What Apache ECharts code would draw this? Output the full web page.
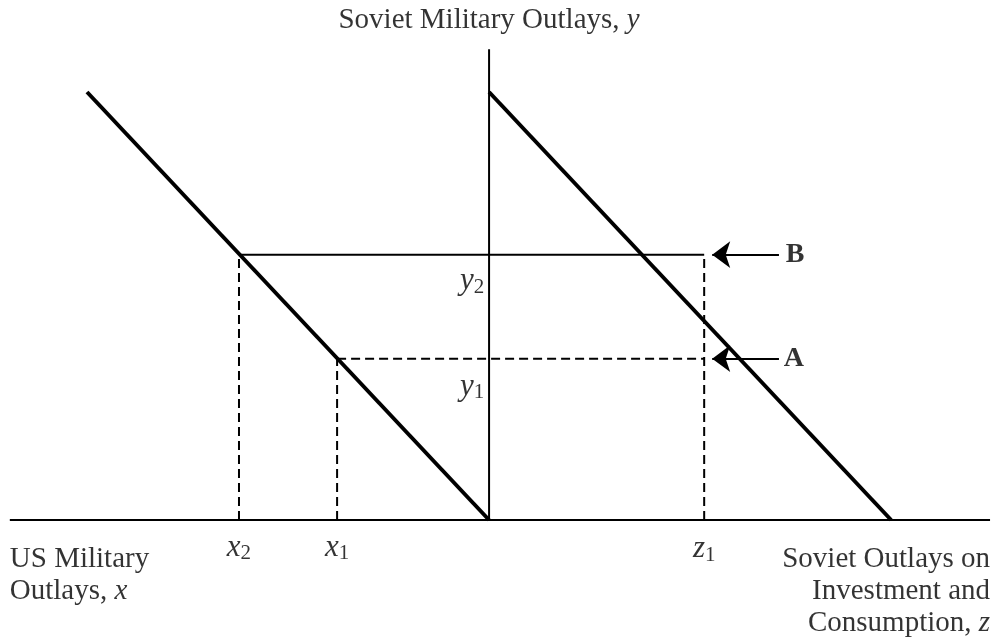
<!DOCTYPE html>
<html>
<head>
<meta charset="utf-8">
<script src="https://cdn.jsdelivr.net/npm/echarts@6/dist/echarts.min.js"></script>
<style>
  html, body { margin: 0; padding: 0; background: #fff; }
  #chart { width: 998px; height: 640px; }
</style>
</head>
<body>
<div id="chart"></div>
<script>
// model values (abstract units, origin where the two axes meet)
const usLine = [[-10, 10], [0, 0]];        // US military outlays vs Soviet military outlays
const sovietLine = [[0, 10], [10, 0]];     // Soviet budget line: y + z
const xAxisLine = [[-11.92, 0], [12.46, 0]];
const yAxisLine = [[0, 0], [0, 11]];
const x1 = -3.78, x2 = -6.22;
const y1 = 3.77, y2 = 6.2;
const z1 = 5.35;
const arrowTail = 7.21, arrowTip = 5.55;

const FONT = "Liberation Serif";

function seg(data, width, dash) {
  return {
    type: "line",
    data: data,
    symbol: "none",
    clip: false,
    silent: true,
    lineStyle: { color: "#000", width: width, type: dash ? [9, 5] : "solid", cap: "butt" }
  };
}

function arrow(y) {
  return {
    type: "line",
    data: [],
    silent: true,
    markLine: {
      silent: true,
      symbol: ["none", "arrow"],
      symbolSize: [20, 18],
      label: { show: false },
      itemStyle: { color: "#000" },
      lineStyle: { color: "#000", width: 2, type: "solid" },
      data: [[{ coord: [arrowTail, y] }, { coord: [arrowTip, y] }]]
    }
  };
}

const rich = {
  n: { fontFamily: FONT, fontSize: 29, color: "#000", lineHeight: 32 },
  i: { fontFamily: FONT, fontSize: 29, fontStyle: "italic", color: "#000", lineHeight: 32 },
  v: { fontFamily: FONT, fontSize: 31, fontStyle: "italic", color: "#000", lineHeight: 32 },
  s: { fontFamily: FONT, fontSize: 21, color: "#000", lineHeight: 32, padding: [12, 0, 0, 0] },
  b: { fontFamily: FONT, fontSize: 28, fontWeight: "bold", color: "#000", lineHeight: 32 }
};

function txt(x, y, text, align, vAlign) {
  return {
    type: "scatter",
    data: [[x, y]],
    symbolSize: 0,
    clip: false,
    silent: true,
    label: {
      show: true,
      position: [0, 0],
      align: align,
      verticalAlign: vAlign,
      color: "#000",
      formatter: text,
      rich: rich
    }
  };
}

const chart = echarts.init(document.getElementById("chart"));
chart.setOption({
  animation: false,
  backgroundColor: "#fff",
  grid: { left: 6.6, right: 6.35, top: 49.2, bottom: 120 },
  xAxis: { type: "value", min: -12, max: 12.5, show: false },
  yAxis: { type: "value", min: 0, max: 11, show: false },
  series: [
    seg(xAxisLine, 2),
    seg(yAxisLine, 2),
    seg([[x2, 0], [x2, y2]], 2, true),
    seg([[x1, 0], [x1, y1]], 2, true),
    seg([[z1, 0], [z1, y2]], 2, true),
    seg([[x1, y1], [z1, y1]], 2, true),
    seg([[x2, y2], [z1, y2]], 2),
    seg(usLine, 4),
    seg(sovietLine, 4),
    arrow(y2),
    arrow(y1),
    txt(0, 11.68, "{n|Soviet Military Outlays, }{i|y}", "center", "middle"),
    txt(x2, -0.65, "{v|x}{s|2}", "center", "middle"),
    txt(x1, -0.65, "{v|x}{s|1}", "center", "middle"),
    txt(z1, -0.68, "{v|z}{s|1}", "center", "middle"),
    txt(-0.12, 5.58, "{v|y}{s|2}", "right", "middle"),
    txt(-0.12, 3.11, "{v|y}{s|1}", "right", "middle"),
    txt(7.38, y2, "{b|B}", "left", "middle"),
    txt(7.33, y1, "{b|A}", "left", "middle"),
    txt(-11.92, -0.55, "{n|US Military}\n{n|Outlays, }{i|x}", "left", "top"),
    txt(12.46, -0.55, "{n|Soviet Outlays on}\n{n|Investment and}\n{n|Consumption, }{i|z}", "right", "top")
  ]
});
</script>
</body>
</html>
